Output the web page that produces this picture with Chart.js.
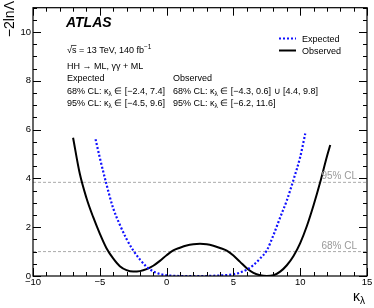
<!DOCTYPE html>
<html>
<head>
<meta charset="utf-8">
<script src="https://cdn.jsdelivr.net/npm/chart.js@4.4.1/dist/chart.umd.min.js"></script>
<style>
  body { margin: 0; background: #fff; }
  canvas { display: block; }
</style>
</head>
<body>
<canvas id="nll-chart" width="374" height="308"></canvas>
<script>
// DATA
const kappaExp = [-5.32, -5, -4.5, -4, -3.5, -3, -2.5, -2, -1.5, -1, -0.5, 0, 0.5, 1, 1.5, 2, 2.5, 3, 3.5, 4, 4.5, 5, 5.5, 6, 6.5, 7, 7.5, 8, 8.5, 9, 9.5, 10, 10.38];
const nllExp   = [5.61, 4.85, 3.76, 2.78, 2.1, 1.52, 1.05, 0.68, 0.38, 0.19, 0.08, 0.03, 0.01, 0, 0, 0, 0, 0, 0.01, 0.02, 0.04, 0.07, 0.14, 0.26, 0.45, 0.72, 1.05, 1.68, 2.4, 3.1, 3.95, 4.88, 5.84];

const kappaObs = [-7, -6.5, -6, -5.5, -5, -4.5, -4, -3.5, -3, -2.5, -2, -1.5, -1, -0.5, 0, 0.5, 1, 1.5, 2, 2.5, 3, 3.5, 4, 4.5, 5, 5.5, 6, 6.5, 7, 7.5, 8, 8.5, 9, 9.5, 10, 10.5, 11, 11.5, 12, 12.25];
const nllObs   = [5.67, 4.2, 3.2, 2.42, 1.74, 1.14, 0.72, 0.4, 0.24, 0.18, 0.2, 0.28, 0.42, 0.62, 0.85, 1.05, 1.16, 1.25, 1.3, 1.32, 1.3, 1.24, 1.15, 1.04, 0.84, 0.58, 0.32, 0.13, 0.03, 0.0, 0.03, 0.18, 0.44, 0.82, 1.35, 2.05, 2.9, 3.85, 4.9, 5.37];

const clLevels = [1, 3.84];
const clLabels = ["68% CL", "95% CL"];

const xTicks = [-10, -5, 0, 5, 10, 15];
const yTicks = [0, 2, 4, 6, 8, 10];

const FONT = '"Liberation Sans", Arial, Helvetica, sans-serif';

function toPoints(xs, ys) {
  return xs.map((x, i) => ({ x: x, y: ys[i] }));
}

function fmtTick(v) {
  return v < 0 ? "\u2212" + Math.abs(v) : String(v);
}

// draw a run of text pieces: [text, size, dy, extra]
function richText(ctx, x, y, segs) {
  segs.forEach(s => {
    const size = s[1] || 9;
    const dy = s[2] || 0;
    const extra = s[3] || {};
    ctx.font = (extra.style || "") + " " + size + "px " + FONT;
    ctx.fillText(s[0], x, y + dy);
    const w = ctx.measureText(s[0]).width;
    if (extra.overline) {
      ctx.beginPath();
      ctx.lineWidth = 0.7;
      ctx.moveTo(x - 1, y + dy - size * 0.78);
      ctx.lineTo(x + w, y + dy - size * 0.78);
      ctx.stroke();
    }
    x += w;
  });
  return x;
}

const kl = [["\u03BA", 9], ["\u03BB", 6.5, 2]];

// DECORATION: frame, inward ticks, texts, legend
const atlasDecor = {
  id: "atlasDecor",
  afterDraw(chart) {
    const ctx = chart.ctx;
    const a = chart.chartArea;
    const xs = chart.scales.x, ys = chart.scales.y;
    ctx.save();
    ctx.strokeStyle = "#000";
    ctx.fillStyle = "#000";

    // frame
    ctx.lineWidth = 1.2;
    ctx.strokeRect(a.left, a.top, a.right - a.left, a.bottom - a.top);

    // x ticks (bottom + top)
    ctx.lineWidth = 1;
    for (let v = xs.min; v <= xs.max; v += 1) {
      const px = Math.round(xs.getPixelForValue(v)) + 0.5;
      const len = xTicks.includes(v) ? 8 : 4;
      ctx.beginPath();
      ctx.moveTo(px, a.bottom); ctx.lineTo(px, a.bottom - len);
      ctx.moveTo(px, a.top); ctx.lineTo(px, a.top + len);
      ctx.stroke();
    }
    // y ticks (left + right)
    for (let v = ys.min; v <= ys.max + 0.001; v += 0.5) {
      const py = Math.round(ys.getPixelForValue(v)) + 0.5;
      const len = yTicks.includes(v) ? 8 : 4;
      ctx.beginPath();
      ctx.moveTo(a.left, py); ctx.lineTo(a.left + len, py);
      ctx.moveTo(a.right, py); ctx.lineTo(a.right - len, py);
      ctx.stroke();
    }

    // CL labels
    ctx.fillStyle = "#999";
    ctx.font = "10px " + FONT;
    ctx.textAlign = "right";
    clLevels.forEach((lv, i) => {
      ctx.fillText(clLabels[i], a.right - 10, ys.getPixelForValue(lv) - 3);
    });

    // axis titles
    ctx.fillStyle = "#000";
    ctx.save();
    ctx.translate(13.5, 1);
    ctx.rotate(-Math.PI / 2);
    ctx.textAlign = "right";
    ctx.font = "14px " + FONT;
    ctx.fillText("\u22122ln\u039B", 0, 0);
    ctx.restore();

    ctx.textAlign = "left";
    richText(ctx, 353, 301, [["\u03BA", 14], ["\u03BB", 10, 3]]);

    // ATLAS label and text block
    ctx.font = "italic bold 14px " + FONT;
    ctx.fillText("ATLAS", 66, 27);

    const x0 = 67, x1 = 173;
    richText(ctx, x0, 52.5, [["\u221A", 9], ["s", 9, 0, { overline: true }], [" = 13 TeV, 140 fb", 9], ["\u22121", 6.5, -3.5]]);
    richText(ctx, x0, 68.5, [["HH \u2192 ML, \u03B3\u03B3 + ML", 9]]);
    richText(ctx, x0, 80.5, [["Expected", 9]]);
    richText(ctx, x1, 80.5, [["Observed", 9]]);
    richText(ctx, x0, 93.5, [["68% CL: ", 9]].concat(kl, [[" \u2208 [\u22122.4, 7.4]", 9]]));
    richText(ctx, x0, 106, [["95% CL: ", 9]].concat(kl, [[" \u2208 [\u22124.5, 9.6]", 9]]));
    richText(ctx, x1, 93.5, [["68% CL: ", 9]].concat(kl, [[" \u2208 [\u22124.3, 0.6] \u222A [4.4, 9.8]", 9]]));
    richText(ctx, x1, 106, [["95% CL: ", 9]].concat(kl, [[" \u2208 [\u22126.2, 11.6]", 9]]));

    // legend
    const legendY = [38.5, 50.5];
    [0, 1].forEach((di, i) => {
      const ds = chart.data.datasets[di];
      ctx.beginPath();
      ctx.strokeStyle = ds.borderColor;
      ctx.lineWidth = ds.borderWidth;
      ctx.setLineDash(ds.borderDash || []);
      ctx.moveTo(279, legendY[i]);
      ctx.lineTo(296, legendY[i]);
      ctx.stroke();
      ctx.setLineDash([]);
      ctx.fillStyle = "#000";
      ctx.font = "9px " + FONT;
      ctx.fillText(ds.label, 302, legendY[i] + 3.2);
    });

    ctx.restore();
  }
};

const ctx = document.getElementById("nll-chart").getContext("2d");

const clSets = clLevels.map((lv, i) => ({
  label: clLabels[i],
  data: [{ x: -10, y: lv }, { x: 15, y: lv }],
  borderColor: "#aaa",
  borderWidth: 1,
  borderDash: [3, 2],
  pointRadius: 0,
  order: 5
}));

new Chart(ctx, {
  type: "line",
  data: {
    datasets: [{
      label: "Expected",
      data: toPoints(kappaExp, nllExp),
      borderColor: "#1010ff",
      borderWidth: 2.2,
      borderDash: [2, 2],
      pointRadius: 0,
      cubicInterpolationMode: "monotone",
      order: 1
    }, {
      label: "Observed",
      data: toPoints(kappaObs, nllObs),
      borderColor: "#000",
      borderWidth: 2,
      pointRadius: 0,
      cubicInterpolationMode: "monotone",
      order: 2
    }].concat(clSets)
  },
  options: {
    responsive: false,
    animation: false,
    layout: { padding: { left: 0, right: 7, top: 3, bottom: 0 } },
    plugins: { legend: { display: false }, tooltip: { enabled: false } },
    scales: {
      x: {
        type: "linear",
        min: -10, max: 15,
        grid: { display: false, drawTicks: false },
        border: { display: false },
        afterBuildTicks: s => { s.ticks = xTicks.map(v => ({ value: v })); },
        afterFit: s => { s.height = 32; },
        ticks: {
          callback: v => fmtTick(v),
          color: "#000",
          font: { family: FONT, size: 9.5 },
          padding: 1,
          maxRotation: 0
        }
      },
      y: {
        type: "linear",
        min: 0, max: 11,
        grid: { display: false, drawTicks: false },
        border: { display: false },
        afterBuildTicks: s => { s.ticks = yTicks.map(v => ({ value: v })); },
        afterFit: s => { s.width = 33; },
        ticks: {
          callback: v => fmtTick(v),
          color: "#000",
          font: { family: FONT, size: 9.5 },
          padding: 2
        }
      }
    }
  },
  plugins: [atlasDecor]
});
</script>
</body>
</html>
